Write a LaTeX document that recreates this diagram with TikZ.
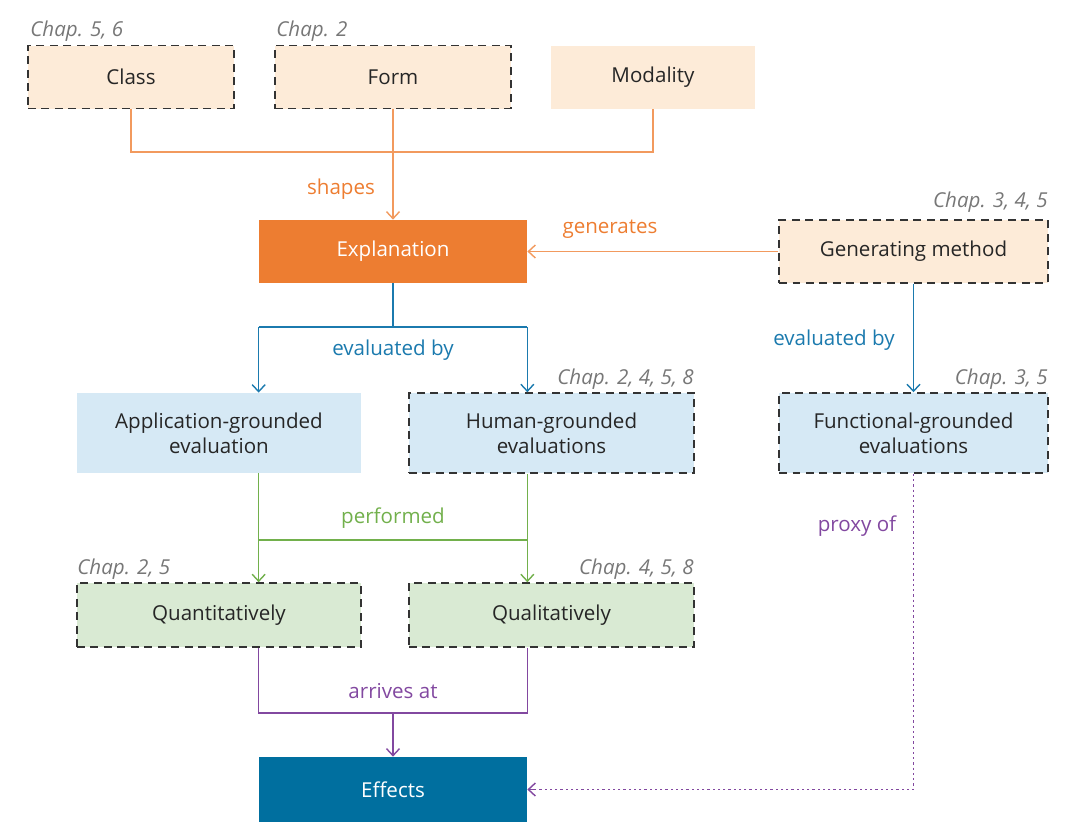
\documentclass[tikz,border=0pt]{standalone}
\usepackage{fontspec}
\setmainfont{Open Sans}
\usepackage{tikz}
\usetikzlibrary{arrows.meta,positioning,calc}
\usepackage{xcolor}
\definecolor{corange}{HTML}{ED7D31}
\definecolor{corangel}{HTML}{F29A5E}
\definecolor{cpeach}{HTML}{FDEBD8}
\definecolor{cblue}{HTML}{006F9F}
\definecolor{cbluel}{HTML}{1B7AAE}
\definecolor{csky}{HTML}{D6E9F5}
\definecolor{cgreen}{HTML}{72B04C}
\definecolor{cmint}{HTML}{D9EAD3}
\definecolor{cpurple}{HTML}{8248A0}
\definecolor{cgray}{HTML}{777777}

\begin{document}
\begin{tikzpicture}[x=0.02cm,y=-0.02cm,>={Straight Barb[length=1.4mm,width=2.6mm]},
    font=\fontsize{11.7}{14}\selectfont,
    box/.style={rectangle,minimum height=63*0.02cm,inner sep=2pt,align=center,text=black!85},
    chapbox/.style={box,draw=black!80,line width=0.85pt,dash pattern=on 0.16cm off 0.11cm},
    peach/.style={fill=cpeach},
    sky/.style={fill=csky,minimum height=80*0.02cm},
    mint/.style={fill=cmint,minimum height=64*0.02cm},
    solid box/.style={box,text=white},
    chap/.style={inner sep=0pt,text=cgray,font=\fontsize{11.7}{14}\selectfont\itshape},
    lbl/.style={inner sep=1pt},
    conn/.style={line width=0.8pt},
  ]
  \useasboundingbox (0,0) rectangle (1080,836);

  % top row
  \node[chapbox,peach,minimum width=206*0.02cm] (class) at (131,77) {Class};
  \node[chapbox,peach,minimum width=236*0.02cm] (form) at (393,77) {Form};
  \node[box,peach,minimum width=204*0.02cm] (modality) at (653,77) {Modality};
  \node[chap,anchor=base west] (chclass) at (30,36) {Chap. 5, 6};
  \node[chap,anchor=base west] (chform) at (276,36) {Chap. 2};

  % explanation and method
  \node[solid box,fill=corange,minimum width=268*0.02cm] (expl) at (393,251.5) {Explanation};
  \node[chapbox,peach,minimum width=269*0.02cm] (gen) at (913.5,251.5) {Generating method};
  \node[chap,anchor=base east] (chgen) at (1048,207) {Chap. 3, 4, 5};

  % evaluations
  \node[box,sky,minimum width=284*0.02cm] (app) at (219,433) {Application-grounded\\evaluation};
  \node[chapbox,sky,minimum width=285*0.02cm] (human) at (551.5,433) {Human-grounded\\evaluations};
  \node[chapbox,sky,minimum width=269*0.02cm] (func) at (913.5,433) {Functional-grounded\\evaluations};
  \node[chap,anchor=base east] (chhuman) at (694,384) {Chap. 2, 4, 5, 8};
  \node[chap,anchor=base east] (chfunc) at (1048,384) {Chap. 3, 5};

  % ways of performing
  \node[chapbox,mint,minimum width=284*0.02cm] (quant) at (219,615) {Quantitatively};
  \node[chapbox,mint,minimum width=285*0.02cm] (qual) at (551.5,615) {Qualitatively};
  \node[chap,anchor=base west] (chquant) at (77,574) {Chap. 2, 5};
  \node[chap,anchor=base east] (chqual) at (694,574) {Chap. 4, 5, 8};

  \node[solid box,fill=cblue,minimum width=268*0.02cm,minimum height=65*0.02cm] (eff) at (393,789.5) {Effects};

  % shapes
  \coordinate (shp) at (0,152);
  \draw[conn,corangel] (class.south) -- (class.south |- shp) -- (modality.south |- shp) -- (modality.south);
  \draw[conn,corangel,->] (form.south) -- (expl.north);
  \node[lbl,text=corange] (lshapes) at (341,189) {shapes};

  % generates
  \draw[conn,corangel,->] (gen.west) -- (expl.east);
  \node[lbl,text=corange] (lgen) at (610,229) {generates};

  % evaluated by
  \coordinate (evb) at (0,327);
  \draw[conn,cbluel] (expl.south) -- (expl.south |- evb);
  \draw[conn,cbluel,->] (expl.south west |- evb) -- (expl.south west |- app.north);
  \draw[conn,cbluel,->] (expl.south east |- evb) -- (expl.south east |- human.north);
  \draw[conn,cbluel] (expl.south west |- evb) -- (expl.south east |- evb);
  \node[lbl,text=cbluel] (levb) at (393,350) {evaluated by};
  \draw[conn,cbluel,->] (gen.south) -- (func.north);
  \node[lbl,text=cbluel] (levb2) at (834,340) {evaluated by};

  % performed
  \coordinate (prf) at (0,540);
  \draw[conn,cgreen,->] (expl.south west |- app.south) -- (expl.south west |- quant.north);
  \draw[conn,cgreen,->] (expl.south east |- human.south) -- (expl.south east |- qual.north);
  \draw[conn,cgreen] (expl.south west |- prf) -- (expl.south east |- prf);
  \node[lbl,text=cgreen] (lprf) at (393,518) {performed};

  % arrives at
  \coordinate (arr) at (0,713);
  \draw[conn,cpurple] (expl.south west |- quant.south) -- (expl.south west |- arr)
    -- (expl.south east |- arr) -- (expl.south east |- qual.south);
  \draw[conn,cpurple,->] (eff.north |- arr) -- (eff.north);
  \node[lbl,text=cpurple] (larr) at (393,691) {arrives at};

  % proxy of
  \draw[conn,cpurple,line width=1.1pt,dash pattern=on 0.045cm off 0.06cm] (func.south) |- (eff.east);
  \draw[conn,cpurple,->] ($(eff.east)+(8,0)$) coordinate (ptip) -- (eff.east);
  \node[lbl,text=cpurple] (lproxy) at (857,526) {proxy of};
\end{tikzpicture}
\end{document}
